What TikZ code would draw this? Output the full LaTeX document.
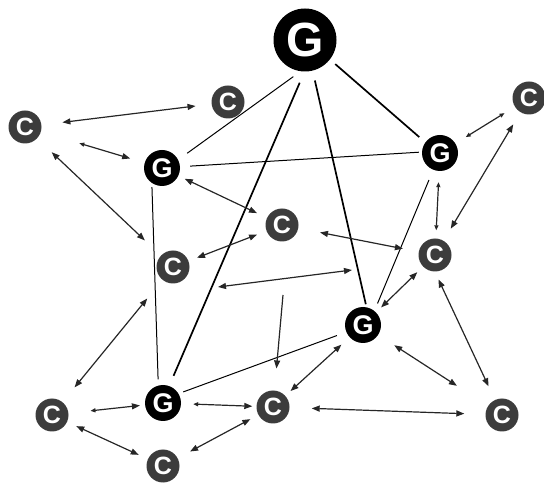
\documentclass[tikz,border=0pt]{standalone}
\usepackage{fontspec}
\setmainfont{Liberation Sans}
\usetikzlibrary{arrows.meta}
\definecolor{cgray}{HTML}{3C3C3C}
\definecolor{agray}{HTML}{262626}
\begin{document}
\begin{tikzpicture}[x=1pt,y=-1pt,
  gnode/.style={circle,fill=black,text=white,inner sep=0pt,minimum size=36pt,font=\fontsize{27}{27}\selectfont\bfseries},
  bignode/.style={circle,fill=black,text=white,inner sep=0pt,minimum size=63pt,font=\fontsize{48}{48}\selectfont\bfseries},
  cnode/.style={circle,fill=cgray,text=white,inner sep=0pt,minimum size=33pt,font=\fontsize{25}{25}\selectfont\bfseries},
  glink/.style={draw=black,line width=1pt},
  gtlink/.style={draw=black,line width=1.7pt},
  arr/.style={draw=agray,line width=1.2pt,{Triangle[length=8pt,width=6pt]}-{Triangle[length=8pt,width=6pt]}},
  arrsa/.style={draw=agray,line width=1.2pt,{Triangle[length=5pt,width=4pt]}-{Triangle[length=8pt,width=6pt]}},
  arrss/.style={draw=agray,line width=1.2pt,{Triangle[length=5pt,width=4pt]}-{Triangle[length=5pt,width=4pt]}},
  arro/.style={draw=agray,line width=1.2pt,-{Triangle[length=8pt,width=6pt]}},
]
\useasboundingbox (0,0) rectangle (544,486);
% nodes
\node[bignode] (G0) at (305,40) {G};
\node[gnode] (G1) at (162,168) {G};
\node[gnode] (G2) at (440,153) {G};
\node[gnode] (G3) at (363,325) {G};
\node[gnode] (G4) at (163,403) {G};
\node[cnode] (C1) at (25,127) {C};
\node[cnode] (C2) at (228,102) {C};
\node[cnode] (C3) at (529,98) {C};
\node[cnode] (C4) at (282,225) {C};
\node[cnode] (C5) at (173,267) {C};
\node[cnode] (C6) at (435,255) {C};
\node[cnode] (C7) at (52,415) {C};
\node[cnode] (C8) at (163,466) {C};
\node[cnode] (C9) at (273,407) {C};
\node[cnode] (C10) at (502,415) {C};
\coordinate (fa1) at (218,287);
\coordinate (fa2) at (352,270);
\coordinate (fb) at (283,295);
% solid links between G nodes
\draw[glink,shorten <=11pt,shorten >=9pt] (G1.27) -- (G0.262);
\draw[gtlink,shorten <=11pt,shorten >=12pt] (G4.70) -- (G0.269);
\draw[gtlink,shorten <=3pt,shorten >=10pt] (G3.79) -- (G0.284);
\draw[gtlink,shorten <=8pt,shorten >=7pt] (G2.144) -- (G0.322);
\draw[glink,shorten <=10pt,shorten >=3pt] (G1.4) -- (G2.177);
\draw[glink,shorten <=4pt,shorten >=6pt] (G1.236) -- (G4.105);
\draw[glink,shorten <=11pt,shorten >=8pt] (G2.248) -- (G3.51);
\draw[glink,shorten <=5pt,shorten >=10pt] (G4.31) -- (G3.203);
% arrows
\draw[arr,shorten <=21pt,shorten >=16pt] (C1) -- (C2);
\draw[arrsa,shorten <=40pt,shorten >=15pt] (C1) -- (G1);
\draw[arr,shorten <=20pt,shorten >=22pt] (C1) -- (C5);
\draw[arr,shorten <=7pt,shorten >=11pt] (G1) -- (C4);
\draw[arr,shorten <=10pt,shorten >=9pt] (C4) -- (C5);
\draw[arr,shorten <=22pt,shorten >=16pt] (C4) -- (C6);
\draw[arr] (fa1) -- (fa2);
\draw[arro,shorten >=22pt] (fb) -- (C9);
\draw[arr,shorten <=24pt,shorten >=19pt] (C5) -- (C7);
\draw[arrsa,shorten <=22pt,shorten >=5pt] (C7) -- (G4);
\draw[arrsa,shorten <=12pt,shorten >=4pt] (G4) -- (C9);
\draw[arr,shorten <=10pt,shorten >=10pt] (C7) -- (C8);
\draw[arr,shorten <=14pt,shorten >=9pt] (C8) -- (C9);
\draw[arr,shorten <=11pt,shorten >=7pt] (G3) -- (C9);
\draw[arr,shorten <=22pt,shorten >=21pt] (C9) -- (C10);
\draw[arr,shorten <=19pt,shorten >=37pt] (G3) -- (C10);
\draw[arr,shorten <=27pt,shorten >=15pt] ([xshift=-8pt]C6.center) -- (C10);
\draw[arr,shorten <=7pt,shorten >=8pt] (G3) -- (C6);
\draw[arrss,shorten <=11pt,shorten >=8pt] (G2) -- (C6);
\draw[arrss,shorten <=12pt,shorten >=12pt] (G2) -- (C3);
\draw[arr,shorten <=14pt,shorten >=14pt] (C3) -- (C6);
\end{tikzpicture}
\end{document}
